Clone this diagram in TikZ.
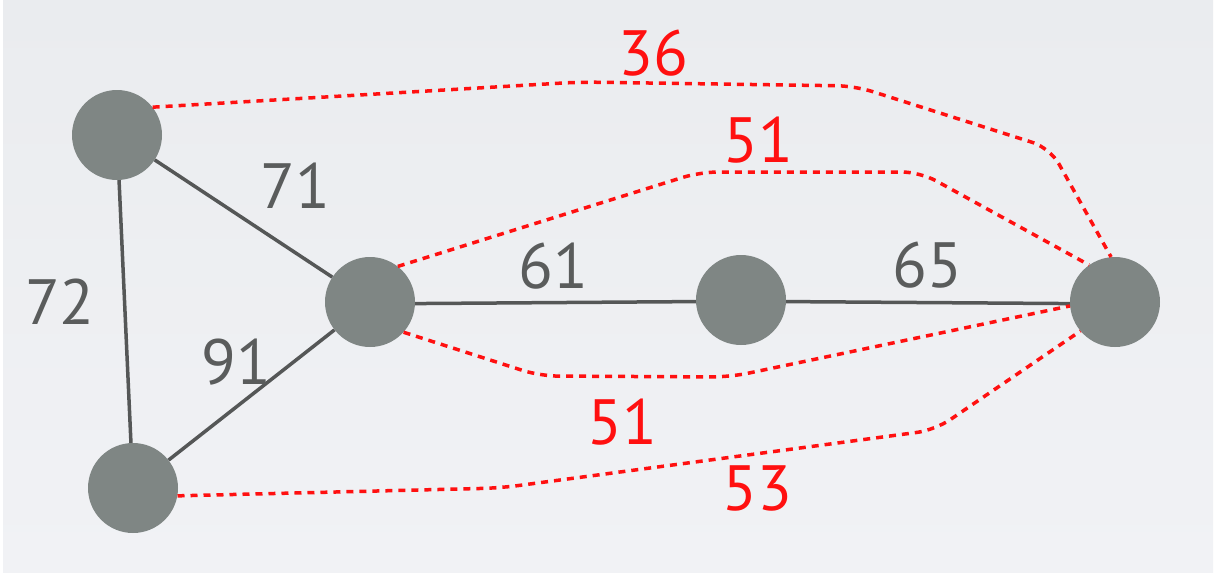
\documentclass[tikz,border=0pt]{standalone}
\usepackage{fontspec}
\setmainfont{PT Sans}
\definecolor{nodegray}{HTML}{7F8684}
\definecolor{edgegray}{HTML}{555757}
\definecolor{labgray}{HTML}{5A5C5C}
\definecolor{bgtop}{HTML}{EAECEF}
\definecolor{bgbot}{HTML}{F1F2F5}
\definecolor{dred}{HTML}{FF1010}
\begin{document}
\begin{tikzpicture}[x=1pt,y=-1pt,
  vert/.style={circle,fill=nodegray,minimum size=90pt,inner sep=0pt},
  solidedge/.style={line width=3.5pt,draw=edgegray},
  redpath/.style={draw=dred,line width=3.5pt,dash pattern=on 7pt off 6pt,rounded corners=18pt},
  wlab/.style={font=\fontsize{64}{64}\selectfont,text=labgray,inner sep=0pt},
  rlab/.style={font=\fontsize{64}{64}\selectfont,text=dred,inner sep=0pt}]
\fill[white] (0,0) rectangle (1216,573);
\shade[top color=bgtop,bottom color=bgbot] (3,0) rectangle (1213,572);
\useasboundingbox (0,0) rectangle (1216,573);

\node[vert] (A) at (117,135) {};
\node[vert] (B) at (133,488) {};
\node[vert] (C) at (370,302) {};
\node[vert] (D) at (741,300) {};
\node[vert] (E) at (1115,302) {};

\draw[solidedge] (A) -- (C);
\draw[solidedge] (A) -- (B);
\draw[solidedge] (B) -- (C);
\draw[solidedge] (C.-2) -- (D.182);
\draw[solidedge] (D.-2) -- (E.182);

\draw[redpath] (A.38) -- (580,82) -- (855,86) -- (1050,148) -- (E.95);
\draw[redpath] (C.52) -- (700,172) -- (920,172) -- (E.125);
\draw[redpath] (C.-42) -- (540,376) -- (730,377) -- (E.185);
\draw[redpath] (B.-10) -- (500,488) -- (935,430) -- (E.220);

\node[wlab] (l71) at (295,186) {71};
\node[wlab] (l72) at (60,302) {72};
\node[wlab] (l91) at (236,362) {91};
\node[wlab] (l61) at (553,266) {61};
\node[wlab] (l65) at (927,265) {65};
\node[rlab] (l36) at (653,53) {36};
\node[rlab] (l51a) at (758,140) {51};
\node[rlab] (l51b) at (622,422) {51};
\node[rlab] (l53) at (757,488) {53};
\end{tikzpicture}
\end{document}
